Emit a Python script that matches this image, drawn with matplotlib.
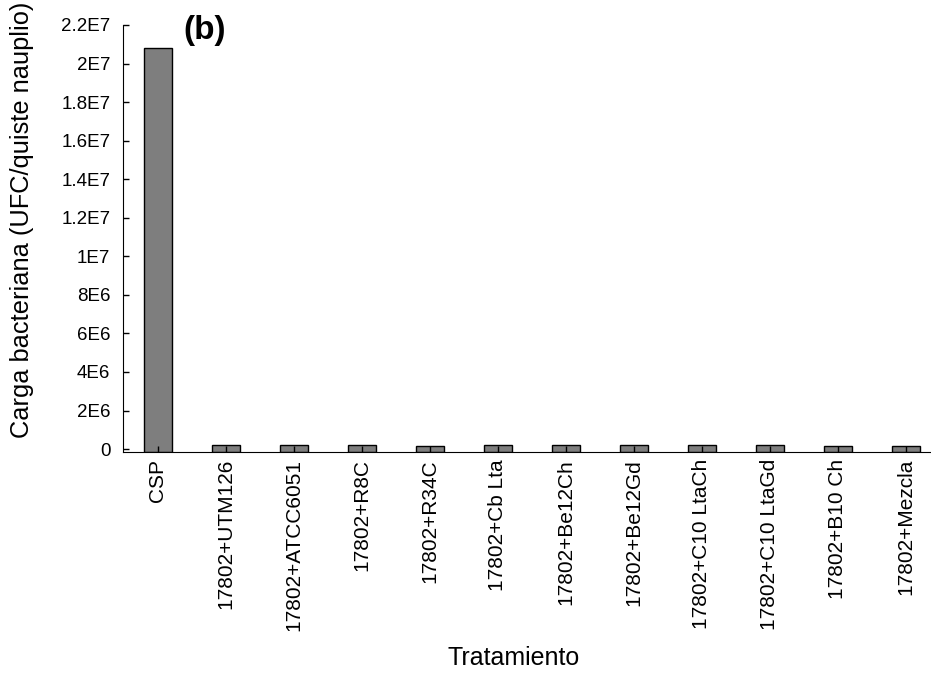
import numpy as np
import matplotlib
matplotlib.use("Agg")
import matplotlib.pyplot as plt

plt.rcParams["font.family"] = ["Liberation Sans", "DejaVu Sans"]

# tratamientos y carga bacteriana (UFC/quiste nauplio)
tratamientos = ["CSP", "17802+UTM126", "17802+ATCC6051", "17802+R8C", "17802+R34C",
                "17802+Cb Lta", "17802+Be12Ch", "17802+Be12Gd", "17802+C10 LtaCh",
                "17802+C10 LtaGd", "17802+B10 Ch", "17802+Mezcla"]
carga = [2.08e7, 2.0e5, 1.9e5, 1.9e5, 1.7e5, 2.2e5, 2.1e5, 2.1e5, 2.1e5, 2.1e5, 1.8e5, 1.8e5]
yticks = [0, 2e6, 4e6, 6e6, 8e6, 1e7, 1.2e7, 1.4e7, 1.6e7, 1.8e7, 2e7, 2.2e7]
yticklabels = ["0", "2E6", "4E6", "6E6", "8E6", "1E7", "1.2E7", "1.4E7", "1.6E7",
               "1.8E7", "2E7", "2.2E7"]

Y0 = -1.5e5   # la linea del eje queda un poco por debajo del cero

fig = plt.figure(figsize=(9.31, 6.73), dpi=100)
ax = fig.add_axes([0.1321, 0.3284, 0.8679, 0.6345])

x = np.arange(len(tratamientos))
vals = np.array(carga)
ax.bar(x, vals - Y0, bottom=Y0, width=0.41, color="#7e7e7e",
       edgecolor="black", linewidth=1.0)

ax.set_xlim(-0.515, 11.37)
ax.set_ylim(Y0, 2.2e7)
ax.set_xticks(x)
ax.set_xticklabels(tratamientos, rotation=90, fontsize=15)
ax.set_yticks(yticks)
ax.set_yticklabels(yticklabels, fontsize=13.5)

ax.spines["top"].set_visible(False)
ax.spines["right"].set_visible(False)
ax.spines["left"].set_bounds(Y0, 2.2e7)
ax.tick_params(axis="both", direction="in", length=4, width=1)
ax.tick_params(axis="y", pad=9)
ax.tick_params(axis="x", pad=5)

ax.set_ylabel("Carga bacteriana (UFC/quiste nauplio)", fontsize=18.3)
ax.yaxis.set_label_coords(-0.110, 0.543)
ax.set_xlabel("Tratamiento", fontsize=18)
ax.xaxis.set_label_coords(0.483, -0.455)

fig.text(183 / 931, 1 - 15 / 673, "(b)", fontsize=24, fontweight="bold",
         ha="left", va="top")

fig.savefig("out.png", dpi=100)
